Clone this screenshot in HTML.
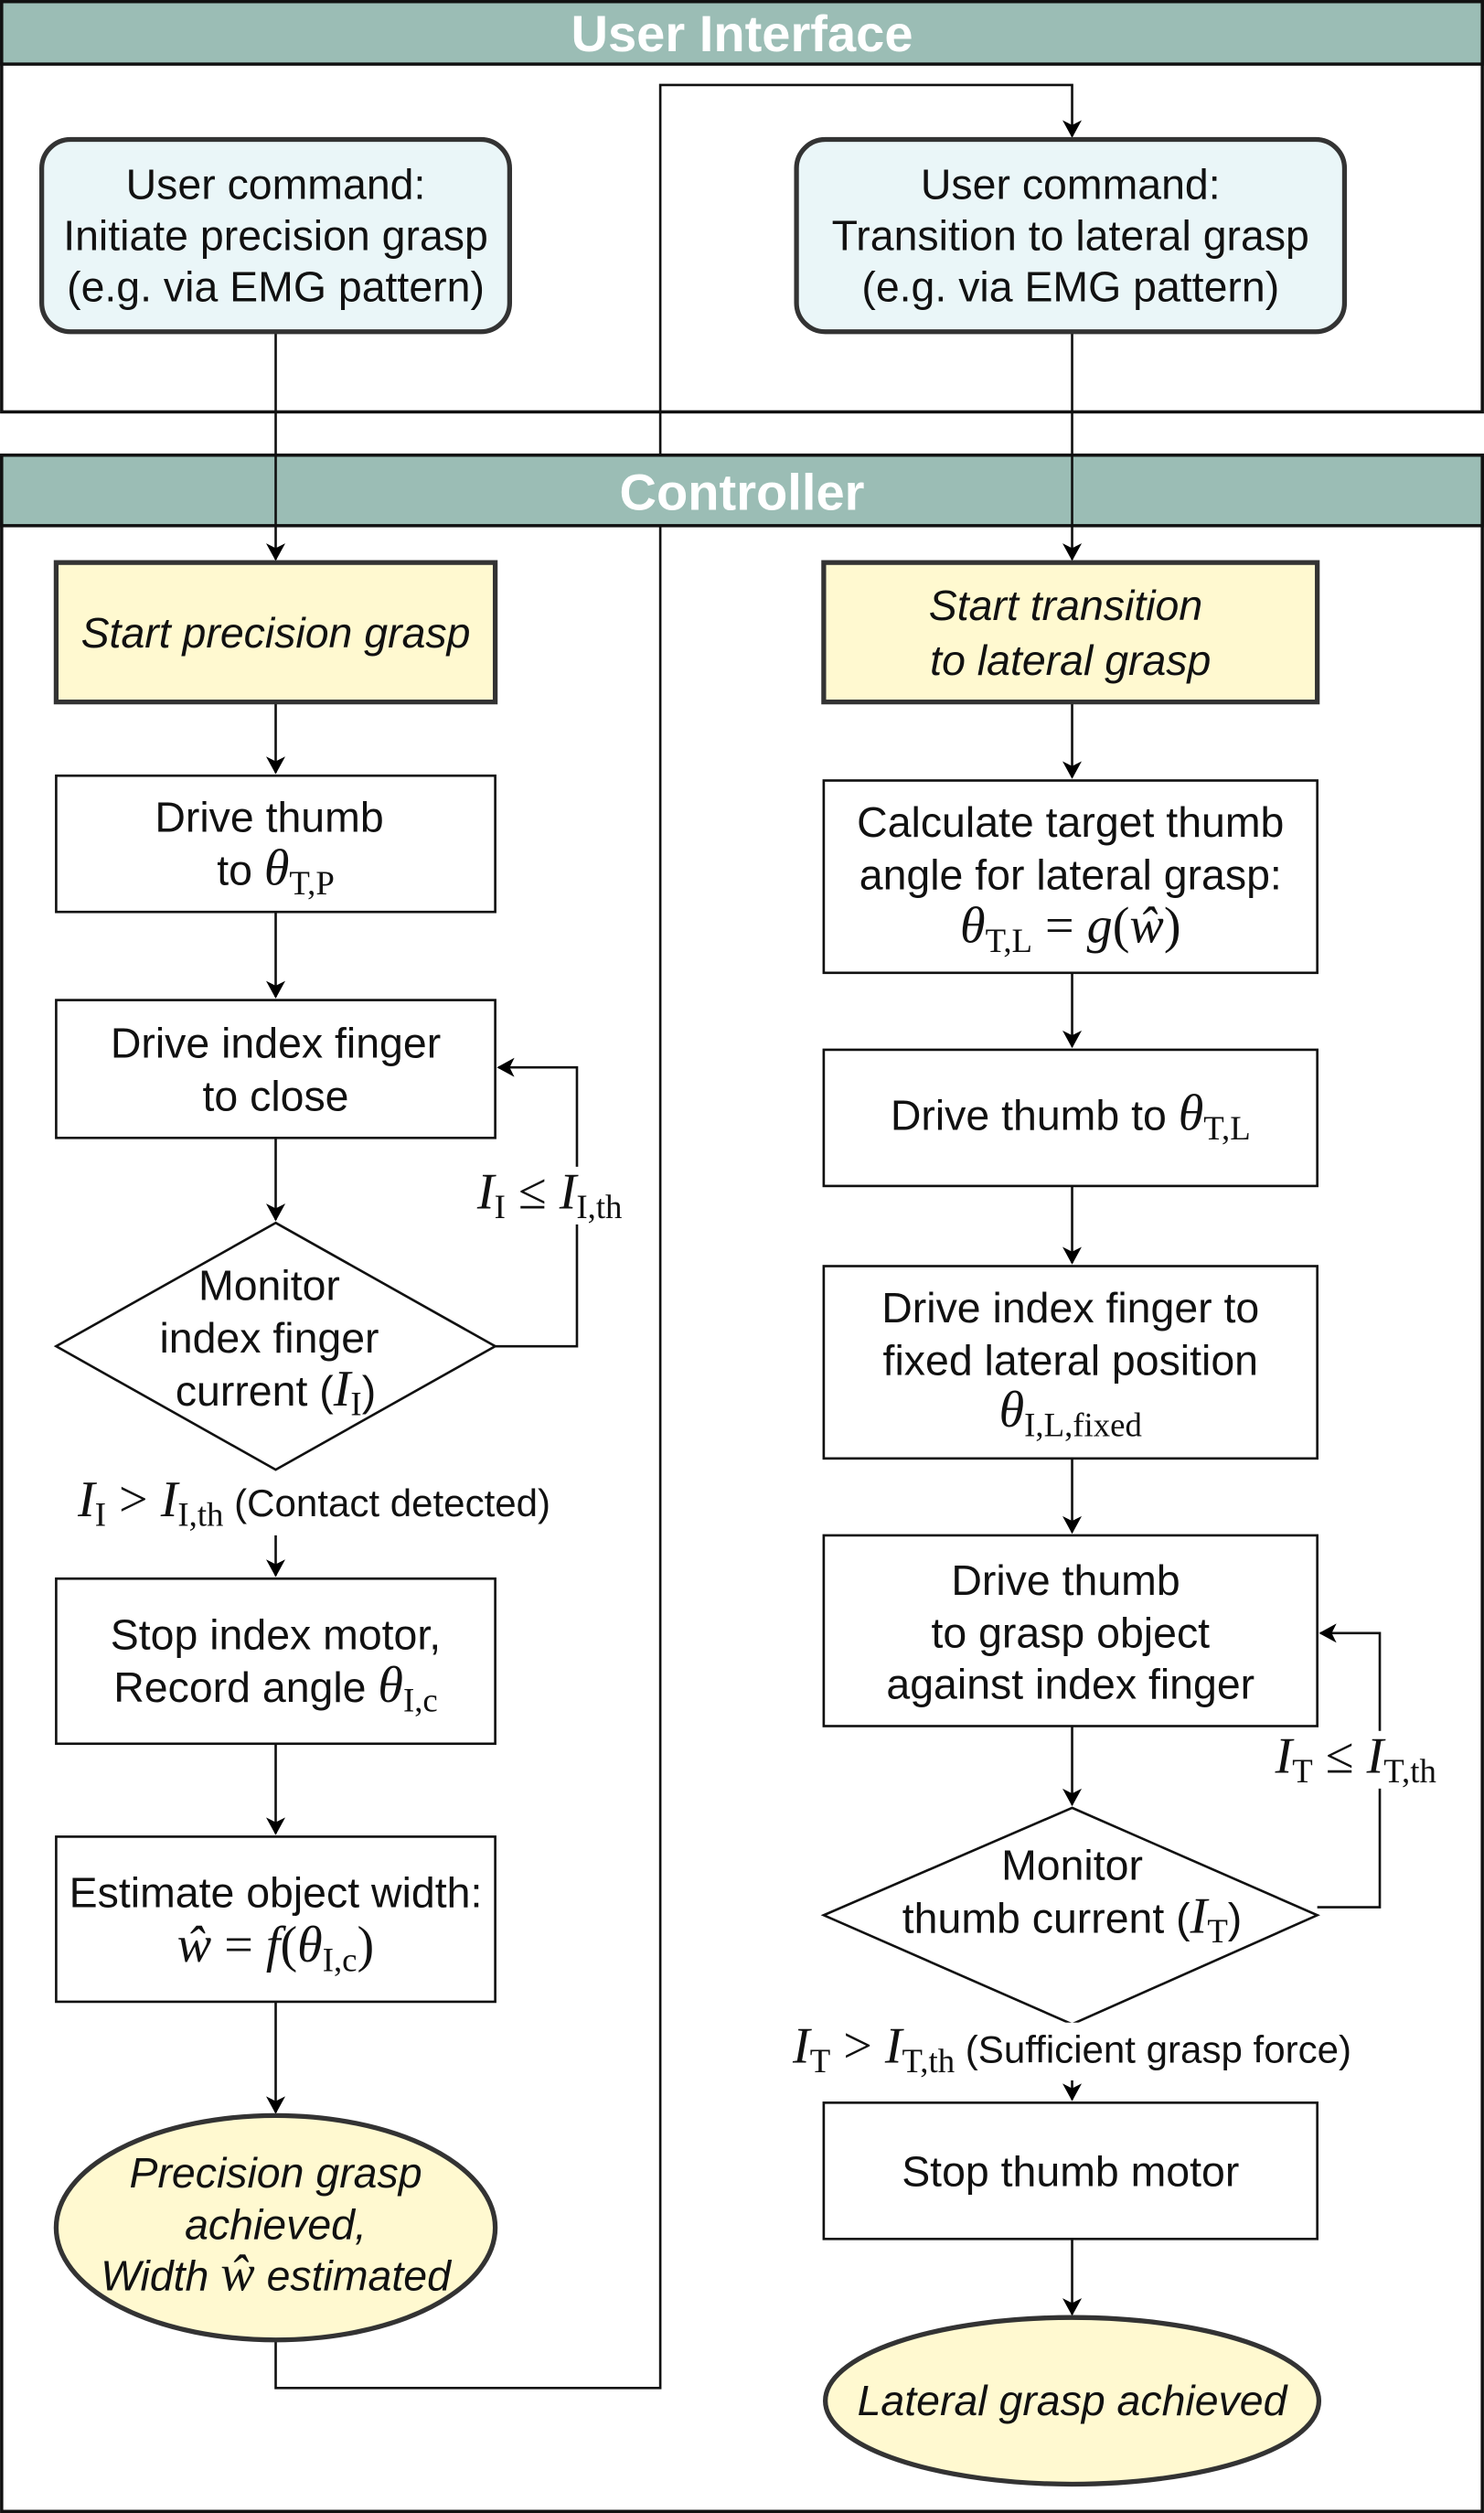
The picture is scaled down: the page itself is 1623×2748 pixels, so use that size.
<!DOCTYPE html>
<html><head><meta charset="utf-8"><style>
html,body{margin:0;padding:0;background:#fff}
svg{display:block}
text{font-family:"Liberation Sans",sans-serif;font-size:26.5px;fill:#111;text-anchor:middle}
.it{font-style:italic}
.m{font-family:"Liberation Serif",serif;font-style:italic;font-size:32px}
.n{font-family:"Liberation Serif",serif;font-style:normal;font-size:32px}
.s{font-family:"Liberation Serif",serif;font-style:normal;font-size:21px}
.h{font-weight:bold;fill:#fff;font-size:32px}
.c{font-size:24px}
</style></head><body>
<svg width="1623" height="2748" viewBox="0 0 926 1568" xmlns="http://www.w3.org/2000/svg">
<defs><marker id="a" markerWidth="12" markerHeight="12" refX="10" refY="6" orient="auto" markerUnits="userSpaceOnUse"><path d="M0,0 L11,6 L0,12 L3,6 Z" fill="#000"/></marker></defs>
<rect x="1" y="1" width="924" height="256" fill="#fff" stroke="#111" stroke-width="2"/>
<rect x="1" y="1" width="924" height="39" fill="#9bbdb5" stroke="#111" stroke-width="2"/>
<text x="463" y="32" class="h">User Interface</text>
<rect x="1" y="284" width="924" height="1283" fill="#fff" stroke="#111" stroke-width="2"/>
<path d="M172,1460 V1490 H412 V53 H669 V85" stroke="#111" stroke-width="1.5" fill="none" marker-end="url(#a)"/>
<rect x="1" y="284" width="924" height="44" fill="#9bbdb5" stroke="#111" stroke-width="2"/>
<text x="463" y="318" class="h">Controller</text>
<g stroke="#111" stroke-width="1.5" fill="none">
<path d="M172,207 V349" marker-end="url(#a)"/>
<path d="M669,207 V349" marker-end="url(#a)"/>
<path d="M172,438 V482" marker-end="url(#a)"/>
<path d="M172,569 V622" marker-end="url(#a)"/>
<path d="M172,710 V761" marker-end="url(#a)"/>
<path d="M309,840 H360 V666 H311" marker-end="url(#a)"/>
<path d="M172,958 V983" marker-end="url(#a)"/>
<path d="M172,1088 V1144" marker-end="url(#a)"/>
<path d="M172,1249 V1318" marker-end="url(#a)"/>
<path d="M669,438 V485" marker-end="url(#a)"/>
<path d="M669,607 V653" marker-end="url(#a)"/>
<path d="M669,740 V788" marker-end="url(#a)"/>
<path d="M669,910 V956" marker-end="url(#a)"/>
<path d="M669,1077 V1126" marker-end="url(#a)"/>
<path d="M822,1190 H861 V1019 H824" marker-end="url(#a)"/>
<path d="M669,1298 V1310" marker-end="url(#a)"/>
<path d="M669,1397 V1444" marker-end="url(#a)"/>
</g>
<rect x="284" y="728" width="120" height="36" fill="#fff"/>
<rect x="780" y="1080" width="135" height="36" fill="#fff"/>
<rect x="26" y="87" width="292" height="120" rx="18" fill="#eaf6f8" stroke="#333" stroke-width="3"/>
<text x="172" y="124">User command:</text><text x="172" y="156">Initiate precision grasp</text><text x="172" y="188">(e.g. via EMG pattern)</text>
<rect x="497" y="87" width="342" height="120" rx="18" fill="#eaf6f8" stroke="#333" stroke-width="3"/>
<text x="668" y="124">User command:</text><text x="668" y="156">Transition to lateral grasp</text><text x="668" y="188">(e.g. via EMG pattern)</text>
<rect x="35" y="351" width="274" height="87" fill="#fff9d0" stroke="#333" stroke-width="3"/>
<text x="172" y="404" class="it">Start precision grasp</text>
<g fill="#fff" stroke="#111" stroke-width="1.5">
<rect x="35" y="484" width="274" height="85"/>
<rect x="35" y="624" width="274" height="86"/>
<path d="M172,763 L309,840 L172,917 L35,840 Z"/>
<rect x="35" y="985" width="274" height="103"/>
<rect x="35" y="1146" width="274" height="103"/>
<rect x="514" y="487" width="308" height="120"/>
<rect x="514" y="655" width="308" height="85"/>
<rect x="514" y="790" width="308" height="120"/>
<rect x="514" y="958" width="308" height="119"/>
<path d="M669,1128 L822,1195 L669,1263 L514,1195 Z"/>
<rect x="514" y="1312" width="308" height="85"/>
</g>
<text x="168" y="519">Drive thumb</text>
<text x="172" y="552">to <tspan class="m">θ</tspan><tspan class="s" dy="6">T,P</tspan></text>
<text x="172" y="660">Drive index finger</text><text x="172" y="693">to close</text>
<text x="168" y="811">Monitor</text><text x="168" y="844">index finger</text>
<text x="172" y="877">current (<tspan class="m">I</tspan><tspan class="s" dy="6">I</tspan><tspan dy="-6">)</tspan></text>
<text x="343" y="754"><tspan class="m">I</tspan><tspan class="s" dy="6">I</tspan><tspan class="n" dy="-6"> ≤ </tspan><tspan class="m">I</tspan><tspan class="s" dy="6">I,th</tspan></text>
<rect x="24" y="920" width="345" height="36" fill="#fff"/>
<text x="196" y="946" class="c"><tspan class="m">I</tspan><tspan class="s" dy="6">I</tspan><tspan class="n" dy="-6"> &gt; </tspan><tspan class="m">I</tspan><tspan class="s" dy="6">I,th</tspan><tspan dy="-6"> (Contact detected)</tspan></text>
<text x="172" y="1029">Stop index motor,</text>
<text x="172" y="1062">Record angle <tspan class="m">θ</tspan><tspan class="s" dy="6">I,c</tspan></text>
<text x="172" y="1190">Estimate object width:</text>
<text x="172" y="1224"><tspan class="m">ŵ</tspan><tspan class="n"> = </tspan><tspan class="m">f</tspan><tspan class="n">(</tspan><tspan class="m">θ</tspan><tspan class="s" dy="6">I,c</tspan><tspan class="n" dy="-6">)</tspan></text>
<ellipse cx="172" cy="1390" rx="137" ry="70" fill="#fff9d0" stroke="#333" stroke-width="3"/>
<text x="172" y="1365" class="it">Precision grasp</text><text x="172" y="1397" class="it">achieved,</text>
<text x="172" y="1429" class="it">Width <tspan class="m">ŵ</tspan> estimated</text>
<rect x="514" y="351" width="308" height="87" fill="#fff9d0" stroke="#333" stroke-width="3"/>
<text x="665" y="387" class="it">Start transition</text><text x="668" y="421" class="it">to lateral grasp</text>
<text x="668" y="522">Calculate target thumb</text><text x="668" y="555">angle for lateral grasp:</text>
<text x="668" y="588"><tspan class="m">θ</tspan><tspan class="s" dy="6">T,L</tspan><tspan class="n" dy="-6"> = </tspan><tspan class="m">g</tspan><tspan class="n">(</tspan><tspan class="m">ŵ</tspan><tspan class="n">)</tspan></text>
<text x="668" y="705">Drive thumb to <tspan class="m">θ</tspan><tspan class="s" dy="6">T,L</tspan></text>
<text x="668" y="825">Drive index finger to</text><text x="668" y="858">fixed lateral position</text>
<text x="668" y="890"><tspan class="m">θ</tspan><tspan class="s" dy="6">I,L,fixed</tspan></text>
<text x="665" y="995">Drive thumb</text><text x="668" y="1028">to grasp object</text><text x="668" y="1060">against index finger</text>
<text x="669" y="1173">Monitor</text>
<text x="669" y="1206">thumb current (<tspan class="m">I</tspan><tspan class="s" dy="6">T</tspan><tspan dy="-6">)</tspan></text>
<text x="846" y="1106"><tspan class="m">I</tspan><tspan class="s" dy="6">T</tspan><tspan class="n" dy="-6"> ≤ </tspan><tspan class="m">I</tspan><tspan class="s" dy="6">T,th</tspan></text>
<rect x="468" y="1262" width="405" height="36" fill="#fff"/>
<text x="669" y="1287" class="c"><tspan class="m">I</tspan><tspan class="s" dy="6">T</tspan><tspan class="n" dy="-6"> &gt; </tspan><tspan class="m">I</tspan><tspan class="s" dy="6">T,th</tspan><tspan dy="-6"> (Sufficient grasp force)</tspan></text>
<text x="668" y="1364">Stop thumb motor</text>
<ellipse cx="669" cy="1498" rx="154" ry="52" fill="#fff9d0" stroke="#333" stroke-width="3"/>
<text x="669" y="1507" class="it">Lateral grasp achieved</text>
</svg>
</body></html>
